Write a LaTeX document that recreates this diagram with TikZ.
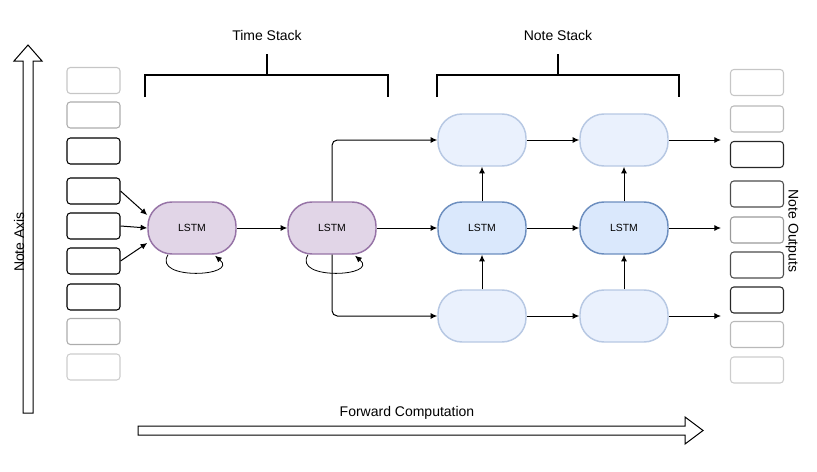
\documentclass[tikz,border=0pt]{standalone}
\usepackage{fontspec}
\setmainfont{Liberation Sans}
\usetikzlibrary{arrows.meta,calc}
\definecolor{tfill}{HTML}{E1D5E7}
\definecolor{tline}{HTML}{9673A6}
\definecolor{nfill}{HTML}{DAE8FC}
\definecolor{nline}{HTML}{6C8EBF}
\definecolor{hfill}{HTML}{EAF1FD}
\definecolor{hline}{HTML}{B7C8E3}
\begin{document}
\begin{tikzpicture}[x=0.75pt, y=-0.75pt, >={Latex[length=5pt,width=4.5pt]}, line width=0.75pt,
  box/.style={rectangle, rounded corners=2.5pt, minimum width=39.75pt, minimum height=19.5pt, inner sep=0pt, line width=0.8pt},
  cell/.style={rectangle, rounded corners=18pt, minimum width=66pt, minimum height=39pt, inner sep=0pt, line width=1.1pt, font=\fontsize{7.8}{9}\selectfont},
  tl/.style={cell, draw=tline, fill=tfill},
  nl/.style={cell, draw=nline, fill=nfill},
  nh/.style={cell, draw=hline, fill=hfill},
  lbl/.style={font=\fontsize{10.5}{12}\selectfont}]
\useasboundingbox (0,0) rectangle (817,471);
\foreach \y/\c [count=\i] in {80.5/gray!45,115/gray!65,151/black,191/black,226/black,261/black,297/black,331.5/gray!65,367/gray!40}
  \node[box, draw=\c] (in\i) at (93.5,\y) {};
\foreach \y/\c [count=\i] in {82.5/gray!45,119/gray!55,154.5/black!85,194/black!70,230/gray!80,265/black!70,300/black!85,334.5/gray!55,370/gray!40}
  \node[box, draw=\c] (out\i) at (757,\y) {};
\draw (23,413) -- (23,61) -- (14,61) -- (28,45) -- (42,61) -- (33,61) -- (33,413) -- cycle;
\node[lbl, rotate=90] (axis) at (19,242) {Note Axis};
\draw (138,426) -- (685,426) -- (685,417) -- (703,430.5) -- (685,444) -- (685,435) -- (138,435) -- cycle;
\node[lbl] (fwd) at (407,413) {Forward Computation};
\node[lbl, rotate=-90] (outs) at (792,231) {Note Outputs};
\node[lbl] (tstack) at (267,35) {Time Stack};
\node[lbl] (nstack) at (558,35) {Note Stack};
\draw[line width=1.4pt] (145,97) -- (145,75) -- (388,75) -- (388,97) (267,75) -- (267,54);
\draw[line width=1.4pt] (437,97) -- (437,75) -- (679,75) -- (679,97) (558,75) -- (558,54);
\node[tl] (t1) at (192,228) {LSTM};
\node[tl] (t2) at (332,228) {LSTM};
\foreach \x [count=\i] in {482,624} {
  \node[nh] (n\i1) at (\x,140) {};
  \node[nl] (n\i2) at (\x,228) {LSTM};
  \node[nh] (n\i3) at (\x,316) {};
  \draw[->] (n\i3) -- (n\i2);
  \draw[->] (n\i2) -- (n\i1);
}
\foreach \r/\y in {1/140,2/228,3/316} {
  \coordinate (e\r) at (721,\y);
  \draw[->] (n1\r) -- (n2\r);
  \draw[->] (n2\r) -- (e\r);
}
\draw[->] (in4.east) -- ($(t1.west)+(0,-13)$);
\draw[->] (in5.east) -- (t1.west);
\draw[->] (in6.east) -- ($(t1.west)+(0,15)$);
\foreach \t in {t1,t2}
  \draw[->, line width=0.6pt] ($(\t.south)+(-24,0)$) .. controls ($(\t.south)+(-40,26)$) and ($(\t.south)+(48,22)$) .. ($(\t.south)+(23,1)$);
\draw[->] (t1) -- (t2);
\draw[->] (t2) -- (n12);
\draw[->, rounded corners=4pt] (t2.north) |- (n11.west);
\draw[->, rounded corners=4pt] (t2.south) |- (n13.west);
\end{tikzpicture}
\end{document}
